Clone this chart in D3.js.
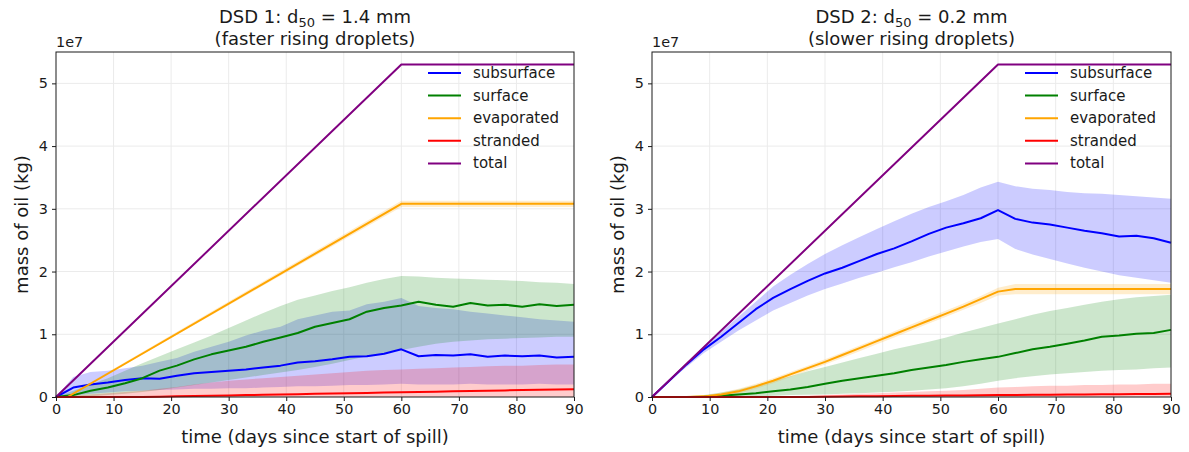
<!DOCTYPE html>
<html>
<head>
<meta charset="utf-8">
<script src="https://cdnjs.cloudflare.com/ajax/libs/d3/7.8.5/d3.min.js"></script>
<style>
body { margin: 0; background: #fff; }
svg { font-family: "DejaVu Sans", sans-serif; }
</style>
</head>
<body>
<svg width="1189" height="452"></svg>
<script>
// all masses in units of 1e7 kg
var days = [0,3,6,9,12,15,18,21,24,27,30,33,36,39,42,45,48,51,54,57,60,63,66,69,72,75,78,81,84,87,90];

var totalDays = [0, 60, 90];
var totalVals = [0, 5.3, 5.3];

// DSD 1 (left)
var subsurface1   = [0,0.15,0.2,0.23,0.27,0.3,0.29,0.34,0.38,0.4,0.42,0.44,0.47,0.5,0.55,0.57,0.6,0.64,0.65,0.69,0.76,0.65,0.67,0.66,0.68,0.64,0.66,0.65,0.66,0.63,0.64];
var subsurface1Lo = [0,0.02,0.05,0.07,0.09,0.1,0.11,0.12,0.13,0.13,0.14,0.14,0.15,0.16,0.17,0.17,0.18,0.19,0.19,0.2,0.21,0.2,0.2,0.2,0.21,0.2,0.2,0.2,0.21,0.2,0.2];
var subsurface1Hi = [0,0.32,0.4,0.42,0.46,0.5,0.56,0.62,0.72,0.8,0.88,0.98,1.06,1.12,1.24,1.3,1.36,1.38,1.48,1.52,1.58,1.45,1.42,1.4,1.36,1.33,1.3,1.27,1.24,1.22,1.2];
var surface1   = [0,0.03,0.1,0.15,0.22,0.3,0.42,0.5,0.6,0.68,0.74,0.8,0.88,0.95,1.02,1.12,1.18,1.24,1.36,1.42,1.46,1.52,1.47,1.44,1.5,1.46,1.47,1.44,1.48,1.45,1.47];
var surface1Lo = [0,0,0.01,0.03,0.05,0.08,0.11,0.15,0.19,0.23,0.27,0.31,0.35,0.39,0.43,0.48,0.53,0.59,0.65,0.7,0.75,0.8,0.85,0.88,0.9,0.92,0.93,0.94,0.95,0.96,0.96];
var surface1Hi = [0,0.1,0.2,0.3,0.42,0.54,0.65,0.76,0.87,0.98,1.1,1.22,1.34,1.45,1.55,1.62,1.69,1.75,1.82,1.88,1.93,1.92,1.9,1.89,1.88,1.87,1.86,1.85,1.83,1.82,1.8];
var evapDays1 = [0, 2, 60, 90];
var evaporated1   = [0, 0, 3.08, 3.08];
var evaporated1Lo = [0, 0, 3.03, 3.03];
var evaporated1Hi = [0, 0.02, 3.13, 3.13];
var stranded1   = [0,0,0,0,0,0,0.005,0.01,0.015,0.02,0.025,0.03,0.035,0.04,0.045,0.05,0.055,0.06,0.065,0.07,0.075,0.08,0.085,0.09,0.095,0.1,0.105,0.11,0.115,0.12,0.125];
var stranded1Hi = [0,0.02,0.04,0.06,0.08,0.1,0.13,0.16,0.2,0.23,0.26,0.28,0.3,0.32,0.34,0.36,0.38,0.4,0.42,0.43,0.44,0.45,0.46,0.47,0.48,0.49,0.5,0.5,0.51,0.52,0.52];

// DSD 2 (right)
var subsurface2   = [0,0.26,0.52,0.76,0.96,1.18,1.4,1.58,1.72,1.85,1.97,2.06,2.17,2.28,2.37,2.48,2.6,2.7,2.77,2.85,2.98,2.84,2.78,2.75,2.7,2.65,2.61,2.56,2.57,2.53,2.46];
var subsurface2Lo = [0,0.25,0.48,0.7,0.88,1.06,1.22,1.38,1.5,1.62,1.72,1.81,1.9,1.98,2.07,2.15,2.24,2.32,2.4,2.47,2.52,2.36,2.27,2.2,2.13,2.06,2.0,1.94,1.9,1.86,1.82];
var subsurface2Hi = [0,0.265,0.53,0.8,1.04,1.28,1.52,1.76,1.95,2.12,2.28,2.42,2.55,2.68,2.8,2.92,3.03,3.12,3.22,3.34,3.43,3.36,3.32,3.3,3.27,3.25,3.24,3.22,3.2,3.18,3.16];
var surface2   = [0,0,0,0.005,0.02,0.04,0.06,0.09,0.12,0.16,0.21,0.26,0.3,0.34,0.38,0.43,0.47,0.51,0.56,0.6,0.64,0.7,0.76,0.8,0.85,0.9,0.96,0.98,1.01,1.02,1.07];
var surface2Lo = [0,0,0,0,0,0.005,0.01,0.02,0.03,0.035,0.04,0.05,0.06,0.07,0.085,0.1,0.12,0.14,0.17,0.21,0.26,0.3,0.33,0.36,0.38,0.4,0.42,0.43,0.44,0.46,0.47];
var surface2Hi = [0,0,0.01,0.03,0.07,0.12,0.19,0.26,0.33,0.41,0.48,0.55,0.62,0.69,0.76,0.82,0.88,0.95,1.03,1.1,1.17,1.24,1.31,1.37,1.42,1.47,1.52,1.56,1.59,1.61,1.63];
var evaporated2   = [0,0,0,0.01,0.04,0.09,0.17,0.26,0.36,0.46,0.56,0.67,0.78,0.89,1.0,1.11,1.22,1.33,1.44,1.56,1.68,1.72,1.72,1.72,1.72,1.72,1.72,1.72,1.72,1.72,1.72];
var evaporated2Lo = [0,0,0,0,0.01,0.05,0.13,0.22,0.32,0.42,0.52,0.62,0.73,0.84,0.95,1.06,1.17,1.28,1.39,1.5,1.62,1.64,1.64,1.64,1.64,1.64,1.64,1.64,1.64,1.64,1.64];
var evaporated2Hi = [0,0,0,0.02,0.07,0.13,0.21,0.3,0.4,0.5,0.6,0.71,0.82,0.93,1.05,1.16,1.27,1.38,1.49,1.61,1.74,1.8,1.8,1.8,1.8,1.8,1.8,1.8,1.8,1.8,1.8];
var stranded2   = [0,0,0,0,0,0,0,0,0,0,0.005,0.008,0.01,0.012,0.015,0.018,0.02,0.022,0.025,0.028,0.03,0.032,0.034,0.036,0.038,0.04,0.042,0.044,0.046,0.048,0.05];
var stranded2Hi = [0,0,0,0,0,0,0.005,0.01,0.015,0.02,0.03,0.04,0.05,0.06,0.07,0.08,0.09,0.1,0.11,0.13,0.15,0.16,0.17,0.18,0.18,0.19,0.19,0.2,0.2,0.21,0.21];

var xTicks = [0,10,20,30,40,50,60,70,80,90];
var yTicks = [0,1,2,3,4,5];
var legendNames = ["subsurface", "surface", "evaporated", "stranded", "total"];
var colors = { subsurface: "#0000ff", surface: "#008000", evaporated: "#ffa500", stranded: "#ff0000", total: "#800080" };

var svg = d3.select("svg");
svg.append("rect").attr("width", 1189).attr("height", 452).attr("fill", "#fff");

var plotTop = 52, plotBottom = 397;

function zip(xs, ys) {
  return xs.map(function(x, i) { return [x, ys[i]]; });
}

function drawPanel(x0, x1, dsd, d50, subtitle, bands, lines) {
  var scaleX = d3.scaleLinear().domain([0, 90]).range([x0, x1]);
  var scaleY = d3.scaleLinear().domain([0, 5.5]).range([plotBottom, plotTop]);
  var g = svg.append("g");

  // grid
  g.selectAll(".gx").data(xTicks.slice(1, -1)).enter().append("line")
    .attr("x1", function(d) { return scaleX(d); }).attr("x2", function(d) { return scaleX(d); })
    .attr("y1", plotTop).attr("y2", plotBottom)
    .attr("stroke", "#ebebeb").attr("stroke-width", 1);
  g.selectAll(".gy").data(yTicks.slice(1)).enter().append("line")
    .attr("x1", x0).attr("x2", x1)
    .attr("y1", function(d) { return scaleY(d); }).attr("y2", function(d) { return scaleY(d); })
    .attr("stroke", "#ebebeb").attr("stroke-width", 1);

  var marks = g.append("g");

  var area = d3.area()
    .x(function(d) { return scaleX(d[0]); })
    .y0(function(d) { return scaleY(d[1]); })
    .y1(function(d) { return scaleY(d[2]); });

  bands.forEach(function(b) {
    var pts = b.x.map(function(x, i) { return [x, b.lo[i], b.hi[i]]; });
    marks.append("path").datum(pts)
      .attr("d", area)
      .attr("fill", colors[b.name]).attr("fill-opacity", 0.2);
  });

  var line = d3.line()
    .x(function(d) { return scaleX(d[0]); })
    .y(function(d) { return scaleY(d[1]); });

  lines.forEach(function(l) {
    marks.append("path").datum(zip(l.x, l.y))
      .attr("d", line)
      .attr("fill", "none")
      .attr("stroke", colors[l.name]).attr("stroke-width", 2)
      .attr("stroke-linejoin", "round");
  });

  // axes
  var ax = g.append("g")
    .attr("transform", "translate(0," + plotBottom + ")")
    .call(d3.axisBottom(scaleX).tickValues(xTicks).tickSize(4).tickPadding(3).tickSizeOuter(0));
  var ay = g.append("g")
    .attr("transform", "translate(" + x0 + ",0)")
    .call(d3.axisLeft(scaleY).tickValues(yTicks).tickFormat(d3.format("d"))
      .tickSize(4).tickPadding(4).tickSizeOuter(0));
  [ax, ay].forEach(function(a) {
    a.select(".domain").remove();
    a.selectAll("text").attr("font-size", 14.4).attr("fill", "#1a1a1a").attr("font-family", "DejaVu Sans");
    a.selectAll("line").attr("stroke", "#1a1a1a");
  });

  g.append("rect")
    .attr("x", x0).attr("y", plotTop)
    .attr("width", x1 - x0).attr("height", plotBottom - plotTop)
    .attr("fill", "none").attr("stroke", "#1a1a1a").attr("stroke-width", 1);

  g.append("text").attr("x", x0).attr("y", 47)
    .attr("font-size", 14.4).attr("fill", "#1a1a1a").text("1e7");

  // titles
  var cx = (x0 + x1) / 2;
  var t = g.append("text").attr("x", cx).attr("y", 23)
    .attr("text-anchor", "middle").attr("font-size", 18).attr("fill", "#1a1a1a");
  t.append("tspan").text(dsd + ": d");
  t.append("tspan").attr("font-size", 13).attr("dy", 4).text("50");
  t.append("tspan").attr("dy", -4).text(" = " + d50);
  g.append("text").attr("x", cx).attr("y", 45)
    .attr("text-anchor", "middle").attr("font-size", 18).attr("fill", "#1a1a1a")
    .text(subtitle);

  g.append("text").attr("x", cx).attr("y", 443)
    .attr("text-anchor", "middle").attr("font-size", 18).attr("fill", "#1a1a1a")
    .text("time (days since start of spill)");

  g.append("text")
    .attr("transform", "translate(" + (x0 - 28) + "," + ((plotTop + plotBottom) / 2) + ") rotate(-90)")
    .attr("text-anchor", "middle").attr("font-size", 18).attr("fill", "#1a1a1a")
    .text("mass of oil (kg)");

  // legend
  var lg = g.append("g");
  legendNames.forEach(function(name, i) {
    var y = 73 + i * 22.6;
    lg.append("line")
      .attr("x1", x1 - 146).attr("x2", x1 - 113)
      .attr("y1", y).attr("y2", y)
      .attr("stroke", colors[name]).attr("stroke-width", 2);
    lg.append("text")
      .attr("x", x1 - 101).attr("y", y + 5)
      .attr("font-size", 15).attr("fill", "#1a1a1a")
      .text(name);
  });
}

drawPanel(56, 574, "DSD 1", "1.4 mm", "(faster rising droplets)",
  [
    { name: "subsurface", x: days, lo: subsurface1Lo, hi: subsurface1Hi },
    { name: "surface", x: days, lo: surface1Lo, hi: surface1Hi },
    { name: "evaporated", x: evapDays1, lo: evaporated1Lo, hi: evaporated1Hi },
    { name: "stranded", x: days, lo: days.map(function() { return 0; }), hi: stranded1Hi }
  ],
  [
    { name: "subsurface", x: days, y: subsurface1 },
    { name: "surface", x: days, y: surface1 },
    { name: "evaporated", x: evapDays1, y: evaporated1 },
    { name: "stranded", x: days, y: stranded1 },
    { name: "total", x: totalDays, y: totalVals }
  ]);

drawPanel(652, 1171, "DSD 2", "0.2 mm", "(slower rising droplets)",
  [
    { name: "subsurface", x: days, lo: subsurface2Lo, hi: subsurface2Hi },
    { name: "surface", x: days, lo: surface2Lo, hi: surface2Hi },
    { name: "evaporated", x: days, lo: evaporated2Lo, hi: evaporated2Hi },
    { name: "stranded", x: days, lo: days.map(function() { return 0; }), hi: stranded2Hi }
  ],
  [
    { name: "subsurface", x: days, y: subsurface2 },
    { name: "surface", x: days, y: surface2 },
    { name: "evaporated", x: days, y: evaporated2 },
    { name: "stranded", x: days, y: stranded2 },
    { name: "total", x: totalDays, y: totalVals }
  ]);
</script>
</body>
</html>
